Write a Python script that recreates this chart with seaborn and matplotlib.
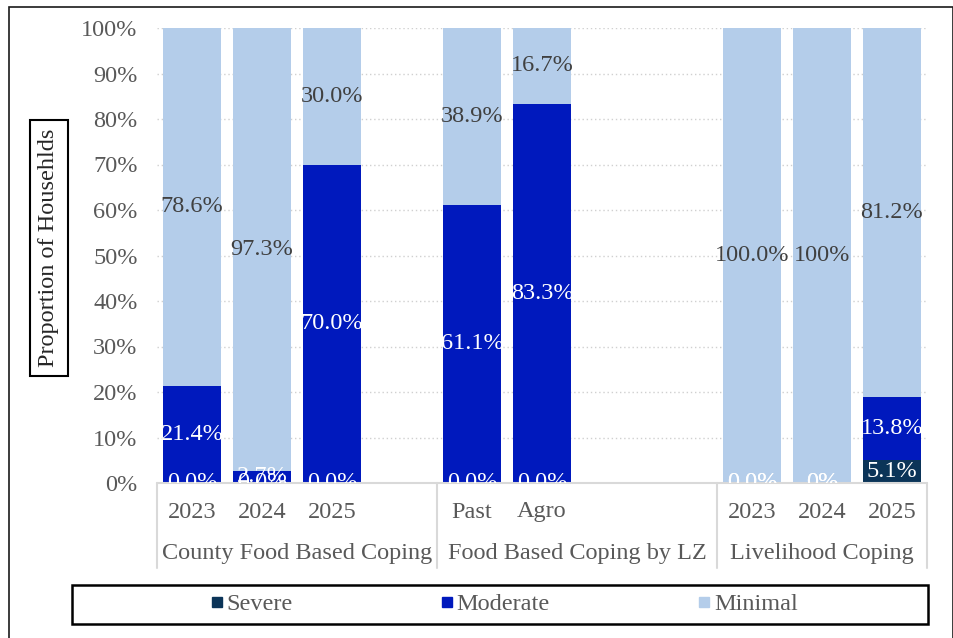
import numpy as np
import pandas as pd
import matplotlib
matplotlib.use("Agg")
import matplotlib.pyplot as plt
from matplotlib.lines import Line2D
from matplotlib.patches import Rectangle
import seaborn as sns

# ---- data ----
groups = ["County Food Based Coping", "Food Based Coping by LZ", "Livelihood Coping"]
group_slots = [4, 4, 3]
bar_labels = [["2023", "2024", "2025"], ["Past", "Agro"], ["2023", "2024", "2025"]]
severe = [0.0, 0.0, 0.0, 0.0, 0.0, 0.0, 0.0, 5.1]
moderate = [21.4, 2.7, 70.0, 61.1, 83.3, 0.0, 0.0, 13.8]
minimal = [78.6, 97.3, 30.0, 38.9, 16.7, 100.0, 100.0, 81.2]
decimals = [1, 1, 1, 1, 1, 1, 0, 1]
series_names = ["Severe", "Moderate", "Minimal"]
colors = ["#0B3458", "#0019BD", "#B4CDEA"]

# ---- build slot order ----
order, keys = [], []
for gi, (g, n, labs) in enumerate(zip(groups, group_slots, bar_labels)):
    for k in range(n):
        if k < len(labs):
            key = f"{g}|{labs[k]}"
            keys.append(key)
        else:
            key = f"{g}|gap{k}"
        order.append(key)
pos = {k: i for i, k in enumerate(order)}

df = pd.DataFrame({"key": keys, "Severe": severe, "Moderate": moderate, "Minimal": minimal})
df["c_sev"] = df["Severe"]
df["c_mod"] = df["Severe"] + df["Moderate"]
df["c_min"] = df["c_mod"] + df["Minimal"]

sns.set_style("white")
plt.rcParams["font.family"] = ["Liberation Serif", "DejaVu Serif"]
FS = 17.5

W, H = 954, 638
fig = plt.figure(figsize=(W / 100, H / 100), dpi=100)
L, R, T, B = 157, 927, 28, 483
ax = fig.add_axes([L / W, 1 - B / H, (R - L) / W, (B - T) / H])

for col, c in zip(["c_min", "c_mod", "c_sev"], [colors[2], colors[1], colors[0]]):
    sns.barplot(data=df, x="key", y=col, order=order, color=c, saturation=1,
                width=0.84, errorbar=None, ax=ax, zorder=2, linewidth=0)

ax.set_xlim(-0.5, len(order) - 0.5)
ax.set_ylim(0, 100)
ax.set_xlabel("")
ax.set_ylabel("")
ax.set_xticks([])
ax.set_yticks(np.arange(0, 101, 10))
ax.set_yticklabels([f"{v}%" for v in range(0, 101, 10)], color="#595959", fontsize=FS)
ax.tick_params(axis="y", length=0, pad=14)
ax.yaxis.grid(True, color="#D0D0D0", linestyle=(0, (1, 2)), linewidth=1)
ax.set_axisbelow(True)
for s in ax.spines.values():
    s.set_visible(False)

# ---- data labels ----
fmt = lambda v, d: f"{v:.{d}f}%"
for i, row in df.iterrows():
    x = pos[row["key"]]
    d = decimals[i]
    ax.text(x, row["Severe"] / 2, fmt(row["Severe"], d), ha="center", va="center",
            color="white", fontsize=FS, clip_on=True, zorder=5)
    ax.text(x, row["c_sev"] + row["Moderate"] / 2, fmt(row["Moderate"], d), ha="center", va="center",
            color="white", fontsize=FS, clip_on=True, zorder=5)
    ax.text(x, row["c_mod"] + row["Minimal"] / 2, fmt(row["Minimal"], d), ha="center", va="center",
            color="#404040", fontsize=FS, clip_on=True, zorder=5)

# ---- category axis ----
tr = ax.get_xaxis_transform()
dy = lambda px: -px / (B - T)
ax.plot([-0.5, len(order) - 0.5], [0, 0], transform=tr, color="#D9D9D9", lw=1.5, clip_on=False, zorder=3)
edges = np.concatenate([[0], np.cumsum(group_slots)]) - 0.5
for e in edges:
    ax.plot([e, e], [0, dy(85)], transform=tr, color="#D9D9D9", lw=1.5, clip_on=False)
for key in keys:
    ax.text(pos[key], dy(29), key.split("|")[1], transform=tr, ha="center", va="center",
            color="#595959", fontsize=FS)
for gi, g in enumerate(groups):
    ax.text((edges[gi] + edges[gi + 1]) / 2, dy(71), g, transform=tr, ha="center", va="center",
            color="#595959", fontsize=FS)

# ---- y label ----
fig.text(49 / W, 1 - 248 / H, "Proportion of Househlds", rotation=90, ha="center", va="center",
         fontsize=FS, color="#262626",
         bbox=dict(boxstyle="square,pad=0.35", fc="white", ec="black", lw=1.5))

# ---- legend ----
fig.add_artist(Rectangle((72 / W, 1 - 624 / H), 856 / W, 39 / H, transform=fig.transFigure,
                         fill=False, ec="black", lw=1.8))
handles = [Line2D([], [], marker="s", linestyle="", markersize=7, color=c) for c in colors]
fig.legend(handles, series_names, loc="center", bbox_to_anchor=(503 / W, 1 - 604 / H),
           ncol=3, frameon=False, fontsize=FS, handletextpad=0.05, columnspacing=6.0,
           handlelength=0.7, labelcolor="#595959")

# ---- figure border ----
fig.add_artist(Rectangle((9 / W, -0.01), 944 / W, 1 - 7 / H + 0.01, transform=fig.transFigure,
                         fill=False, ec="#1a1a1a", lw=1.2))

fig.savefig("out.png", dpi=100)
